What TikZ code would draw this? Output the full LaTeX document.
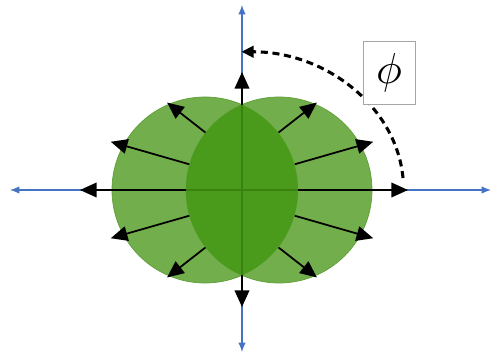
\documentclass[tikz,border=0pt]{standalone}
\usepackage{graphicx}
\usetikzlibrary{arrows.meta}
\definecolor{leaf}{HTML}{72AE4C}
\definecolor{leafdark}{HTML}{439814}
\definecolor{leafedge}{HTML}{5E9F38}
\definecolor{axisblue}{HTML}{4472C4}
\definecolor{boxgray}{HTML}{A6A6A6}

\begin{document}
\begin{tikzpicture}[x=0.03cm, y=0.03cm,
  axis/.style={<->, >={Latex[length=2.8mm,width=2.2mm]}, line width=1pt, axisblue},
  blob/.style={circle, minimum size=5.58cm, inner sep=0pt, fill=leaf, draw=leafedge, line width=0.6pt},
  ray/.style={-{Triangle[length=5mm,width=4.4mm]}, line width=1.5pt, black},
  sweep/.style={-{Triangle[length=3.6mm,width=3.4mm]}, line width=2.6pt, dash pattern=on 6pt off 4pt},
  anglebox/.style={rectangle, draw=boxgray, line width=0.8pt, fill=white, minimum width=1.56cm, minimum height=1.89cm, inner sep=0pt}
]
  \useasboundingbox (-242,-168) rectangle (251,190);

  % blue axes
  \coordinate (o) at (0,0);
  \coordinate (west) at (-232,0);
  \coordinate (east) at (249,0);
  \coordinate (north) at (0,185);
  \coordinate (south) at (0,-162);
  \draw[axis] (west) -- (east);
  \draw[axis] (south) -- (north);

  % the two lobes
  \node[blob] (lcirc) at (-37,0) {};
  \node[blob] (rcirc) at (37,0) {};

  % field along the axes
  \coordinate (wtip) at (-162,0);
  \coordinate (etip) at (166,0);
  \coordinate (ntip) at (0,118);
  \coordinate (stip) at (0,-117);
  \draw[ray] (o) -- (wtip);
  \draw[ray] (o) -- (etip);
  \draw[ray] (o) -- (ntip);
  \draw[ray] (o) -- (stip);

  % overlap of the lobes
  \begin{scope}
    \clip (lcirc.center) circle (93);
    \fill[leafdark, fill opacity=0.85] (rcirc.center) circle (93);
  \end{scope}

  % radial field lines
  \path (rcirc.center) ++(142:142) coordinate (l1);
  \path (rcirc.center) ++(164:175) coordinate (l2);
  \path (rcirc.center) ++(196:175) coordinate (l3);
  \path (rcirc.center) ++(218:142) coordinate (l4);
  \path (lcirc.center) ++(38:142) coordinate (r1);
  \path (lcirc.center) ++(16:175) coordinate (r2);
  \path (lcirc.center) ++(-16:175) coordinate (r3);
  \path (lcirc.center) ++(-38:142) coordinate (r4);
  \draw[ray] (rcirc.142) -- (l1);
  \draw[ray] (rcirc.164) -- (l2);
  \draw[ray] (rcirc.196) -- (l3);
  \draw[ray] (rcirc.218) -- (l4);
  \draw[ray] (lcirc.38) -- (r1);
  \draw[ray] (lcirc.16) -- (r2);
  \draw[ray] (lcirc.-16) -- (r3);
  \draw[ray] (lcirc.-38) -- (r4);

  % angle sweep
  \coordinate (sweepstart) at (161,12);
  \draw[sweep] (sweepstart) arc[start angle=4.5, end angle=90, x radius=162, y radius=137];

  \node[anglebox] (phi) at (147,117) {\scalebox{3.7}{$\phi$}};
\end{tikzpicture}
\end{document}
